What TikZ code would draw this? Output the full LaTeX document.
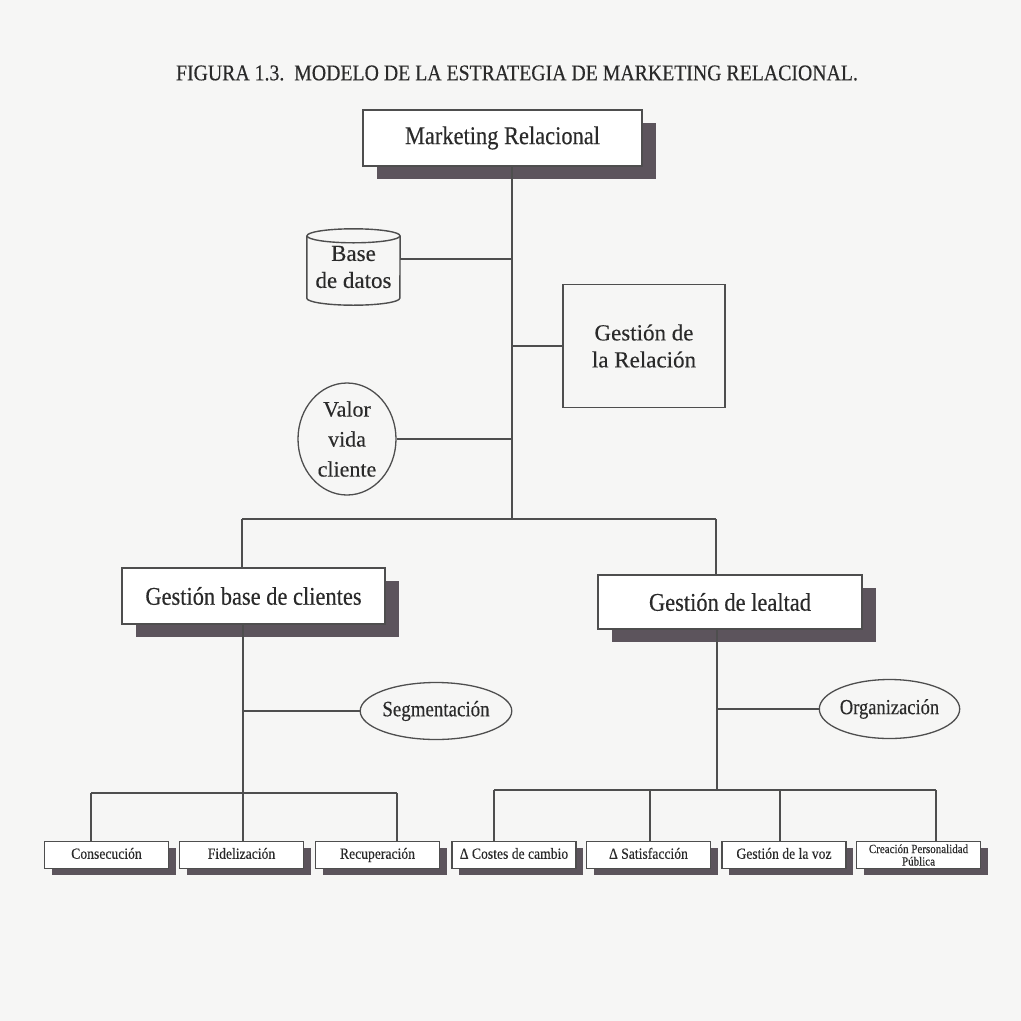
\documentclass[tikz,border=0pt]{standalone}
\usepackage{fontspec}
\setmainfont{Liberation Serif}[FakeBold=0.25]
\newfontfamily\condA[FakeStretch=0.88,FakeBold=0.3]{Liberation Serif}
\newfontfamily\condB[FakeStretch=0.86,FakeBold=0.3]{Liberation Serif}
\usetikzlibrary{shadows,shapes.geometric}
\definecolor{linec}{RGB}{78,78,78}
\definecolor{txtc}{RGB}{42,42,42}
\definecolor{shc}{RGB}{92,84,92}
\definecolor{bgc}{RGB}{246,246,245}
\begin{document}
\begin{tikzpicture}[x=1pt,y=-1pt,
  conn/.style={draw=linec, line width=1.4pt},
  bigbox/.style={draw=linec, fill=white, line width=1.4pt, text=txtc, inner sep=0pt,
    font=\condA\fontsize{25.5}{28}\selectfont,
    drop shadow={shadow xshift=14pt, shadow yshift=-13pt, fill=shc, opacity=1}},
  smallbase/.style={draw=linec, fill=white, line width=1.2pt, text=txtc, inner sep=0pt,
    minimum width=124pt, minimum height=27pt, align=center,
    font=\condA\fontsize{15.5}{16}\selectfont,
    drop shadow={shadow xshift=7pt, shadow yshift=-6pt, fill=shc, opacity=1}},
  smallbox/.style={smallbase, text height=10.5pt, text depth=3pt},
  plainbox/.style={draw=linec, line width=1.4pt, text=txtc, inner sep=0pt, align=center,
    font=\fontsize{23}{27}\selectfont},
  oval/.style={ellipse, draw=linec, line width=1.3pt, text=txtc, inner sep=0pt, align=center}
]
\path[fill=bgc] (0,0) rectangle (1021,1021);

% title
\node[text=txtc, font=\condA\fontsize{22.5}{24}\selectfont, inner sep=0pt] (title) at (517,73)
  {FIGURA 1.3.\ \ MODELO DE LA ESTRATEGIA DE MARKETING RELACIONAL.};

% main nodes
\node[bigbox, minimum width=279pt, minimum height=56pt] (mr) at (502.5,138) {Marketing Relacional};

\node[text=txtc, inner sep=0pt, minimum width=93pt, minimum height=76pt, align=center,
      font=\fontsize{23}{27}\selectfont] (bd) at (353.5,267) {Base\\de datos};
\draw[conn] ([yshift=-7pt]bd.north west) -- ([yshift=7pt]bd.south west)
  arc[start angle=180, end angle=360, x radius=46.5pt, y radius=7pt]
  -- ([yshift=-7pt]bd.north east);
\draw[conn] ([yshift=-7pt]bd.north) ellipse[x radius=46.5pt, y radius=7pt];

\node[plainbox, minimum width=162pt, minimum height=123pt] (gr) at (644,346) {Gestión de\\la Relación};

\node[oval, minimum width=98pt, minimum height=112pt, font=\fontsize{22}{30}\selectfont] (vv) at (347,439) {Valor\\vida\\cliente};

\node[bigbox, minimum width=263pt, minimum height=56pt] (gb) at (253.5,596) {Gestión base de clientes};
\node[bigbox, minimum width=264pt, minimum height=54pt] (gl) at (730,602) {Gestión de lealtad};

\node[oval, minimum width=124pt, minimum height=57pt, font=\condB\fontsize{22}{24}\selectfont] (seg) at (436,711) {Segmentación};
\node[oval, minimum width=115pt, minimum height=59pt, font=\condB\fontsize{21.5}{24}\selectfont] (org) at (889.5,709) {Organización};

% bottom boxes
\node[smallbox] (b1) at (106.5,855) {Consecución};
\node[smallbox] (b2) at (241.5,855) {Fidelización};
\node[smallbox] (b3) at (377.5,855) {Recuperación};
\node[smallbox] (b4) at (514,855) {Δ Costes de cambio};
\node[smallbox] (b5) at (648.5,855) {Δ Satisfacción};
\node[smallbox] (b6) at (784,855) {Gestión de la voz};
\node[smallbase, font=\condA\fontsize{12.5}{12.5}\selectfont] (b7) at (918.5,855) {Creación Personalidad\\Pública};

% upper connectors
\coordinate (tA) at (512,519);
\coordinate (bL) at (242,519);
\coordinate (bR) at (716,519);
\draw[conn] (mr.south -| tA) -- (tA);
\draw[conn] (bL) -- (bR);
\draw[conn] (bL) -- (bL |- gb.north);
\draw[conn] (bR) -- (bR |- gl.north);
\draw[conn] ([yshift=8pt]bd.east) -- ([yshift=8pt]bd.east -| tA);
\draw[conn] (gr.west) -- (gr.west -| tA);
\draw[conn] (vv.east) -- (vv.east -| tA);

% left lower
\coordinate (lL) at (91,793);
\coordinate (lM) at (243,793);
\coordinate (lR) at (397,793);
\draw[conn] (gb.south -| lM) -- (lM);
\draw[conn] (lL) -- (lR);
\draw[conn] (seg.west) -- (seg.west -| lM);
\draw[conn] (lL) -- (lL |- b1.north);
\draw[conn] (lM) -- (lM |- b2.north);
\draw[conn] (lR) -- (lR |- b3.north);

% right lower
\coordinate (rL) at (494,790);
\coordinate (r2) at (650,790);
\coordinate (rT) at (717,790);
\coordinate (r3) at (780,790);
\coordinate (rR) at (936,790);
\draw[conn] (gl.south -| rT) -- (rT);
\draw[conn] (rL) -- (rR);
\draw[conn] (org.west) -- (org.west -| rT);
\draw[conn] (rL) -- (rL |- b4.north);
\draw[conn] (r2) -- (r2 |- b5.north);
\draw[conn] (r3) -- (r3 |- b6.north);
\draw[conn] (rR) -- (rR |- b7.north);
\end{tikzpicture}
\end{document}
